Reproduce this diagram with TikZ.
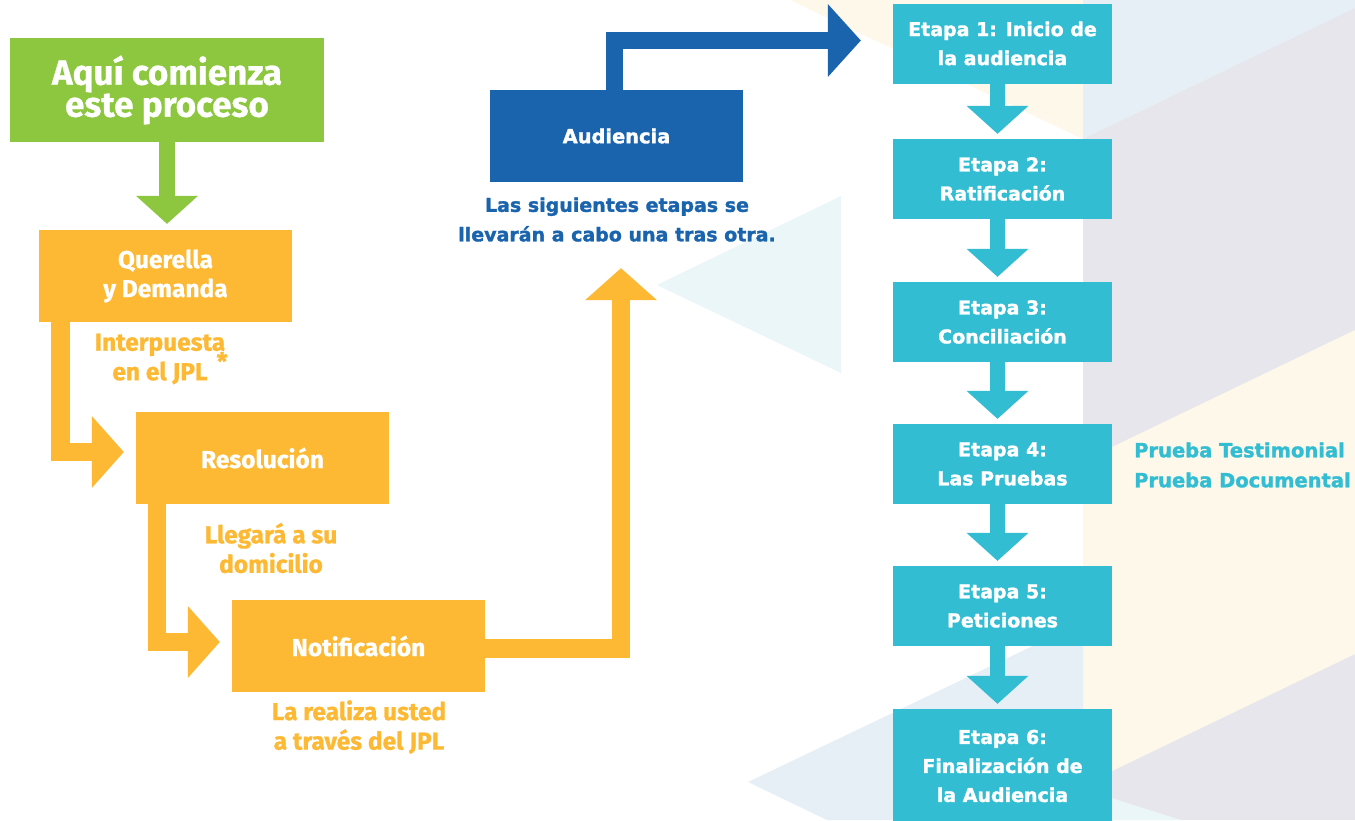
\documentclass[tikz,border=0pt]{standalone}
\usepackage{fontspec}
\setmainfont{Fira Sans}[BoldFeatures={FakeBold=0.8}]
\newfontfamily\widefont{DejaVu Sans}[BoldFeatures={FakeBold=1.6}]
\usetikzlibrary{arrows.meta,calc}
\definecolor{cgreen}{HTML}{8DC63F}
\definecolor{corange}{HTML}{FDB934}
\definecolor{cblue}{HTML}{1A64AE}
\definecolor{ccyan}{HTML}{33BDD3}
\definecolor{bgblue}{HTML}{E6EEF6}
\definecolor{bggrey}{HTML}{E6E6EC}
\definecolor{bgcream}{HTML}{FDF8EA}
\definecolor{bgcyan}{HTML}{EBF6F9}
\tikzset{
  box/.style={rectangle, inner sep=0pt, align=center, text=white,
    font=\bfseries\fontsize{24.5}{29}\selectfont},
  stagebox/.style={box, fill=ccyan, minimum width=219pt, minimum height=80pt,
    font=\widefont\bfseries\fontsize{19}{29}\selectfont},
  note/.style={inner sep=0pt, align=center, font=\bfseries\fontsize{24.5}{29.5}\selectfont},
  widenote/.style={inner sep=0pt, align=center, font=\widefont\bfseries\fontsize{19}{29.5}\selectfont},
  blockarrow/.style={line cap=butt, line join=miter},
  garrow/.style={blockarrow, draw=cgreen, line width=16pt,
    -{Triangle[length=28pt,width=62pt,line width=0pt]}},
  oarrow/.style={blockarrow, draw=corange, line width=18.5pt,
    -{Triangle[length=32pt,width=72pt,line width=0pt]}},
  barrow/.style={blockarrow, draw=cblue, line width=17pt,
    -{Triangle[length=33pt,width=73pt,line width=0pt]}},
  carrow/.style={blockarrow, draw=ccyan, line width=15pt,
    -{Triangle[length=28pt,width=62pt,line width=0pt]}},
}
\begin{document}
\begin{tikzpicture}[x=1pt,y=-1pt]
\useasboundingbox (0,0) rectangle (1355,820);
% background
\fill[white] (0,0) rectangle (1355,820);
\fill[bgcream] (790,0) -- (1083,139) -- (1083,0) -- cycle;
\fill[bggrey] (1083,0) rectangle (1355,820);
\fill[bgblue] (1083,0) -- (1355,0) -- (1355,8) -- (1083,139) -- cycle;
\fill[bgcream] (1083,461) -- (1355,330) -- (1355,654) -- (1083,785) -- cycle;
\fill[bgcyan] (1083,789) -- (1181,820) -- (1083,820) -- cycle;
\fill[bgcyan] (657,285) -- (841,196) -- (841,373) -- cycle;
\fill[bgblue] (748,782) -- (1083,622) -- (1083,820) -- (827,820) -- cycle;

% left column
\node[box, fill=cgreen, minimum width=314pt, minimum height=104pt,
  font=\bfseries\fontsize{35}{31}\selectfont] (start) at (167,90) {Aquí comienza\\este proceso};
\node[box, fill=corange, minimum width=253pt, minimum height=92pt] (quer) at (165.5,276) {Querella\\y Demanda};
\node[box, fill=corange, minimum width=253pt, minimum height=92pt] (reso) at (262.5,458) {Resolución};
\node[box, fill=corange, minimum width=253pt, minimum height=92pt] (noti) at (358.5,646) {\raisebox{-5pt}{Notificación}};
\node[box, fill=cblue, minimum width=253pt, minimum height=92pt,
  font=\widefont\bfseries\fontsize{19.4}{29}\selectfont] (aud) at (616.5,136) {Audiencia};

\node[note, text=corange] (interp) at (160,359) {Interpuesta\llap{\smash{\raisebox{-1.5ex}{*}}\hspace{-0.1em}}\\en el JPL};
\node[note, text=corange] (llega) at (271,548) {Llegará a su\\domicilio};
\node[note, text=corange] (realiza) at (359,727) {La realiza usted\\a través del JPL};
\node[widenote, text=cblue] (sig) at (617,219.5) {Las siguientes etapas se\\llevarán a cabo una tras otra.};

% stages
\node[stagebox] (e1) at (1002.5,43.5) {Etapa 1: Inicio de\\la audiencia};
\node[stagebox] (e2) at (1002.5,179) {Etapa 2:\\Ratificación};
\node[stagebox] (e3) at (1002.5,322) {Etapa 3:\\Conciliación};
\node[stagebox] (e4) at (1002.5,464) {Etapa 4:\\Las Pruebas};
\node[stagebox] (e5) at (1002.5,606) {Etapa 5:\\Peticiones};
\node[stagebox, minimum height=114pt] (e6) at (1002.5,766) {Etapa 6:\\Finalización de\\la Audiencia};
\node[widenote, text=ccyan, anchor=west, align=left,
  font=\widefont\bfseries\fontsize{19.5}{30}\selectfont] (pruebas) at (1134,465) {Prueba Testimonial\\Prueba Documental};

% connectors
\draw[garrow] (start.south) -- ($(start.south |- quer.north)+(0,-6)$);
\draw[oarrow] ($(quer.south west)+(21.5,0)$) |- ($(reso.west)+(-12,-6)$);
\draw[oarrow] ($(reso.south west)+(21,0)$) |- ($(noti.west)+(-12,-4)$);
\coordinate (audin) at ($(aud.south)+(4.5,86)$);
\draw[oarrow] ($(noti.east)+(0,2.5)$) -| (audin);
\draw[barrow] ($(aud.north)+(-2,0)$) |- ($(e1.west)+(-32,-3)$);
\foreach \a/\b in {e1/e2,e2/e3,e3/e4,e4/e5,e5/e6}
  \draw[carrow] ($(\a.south)+(-5,0)$) -- ($(\b.north)+(-5,-5)$);
\end{tikzpicture}
\end{document}
